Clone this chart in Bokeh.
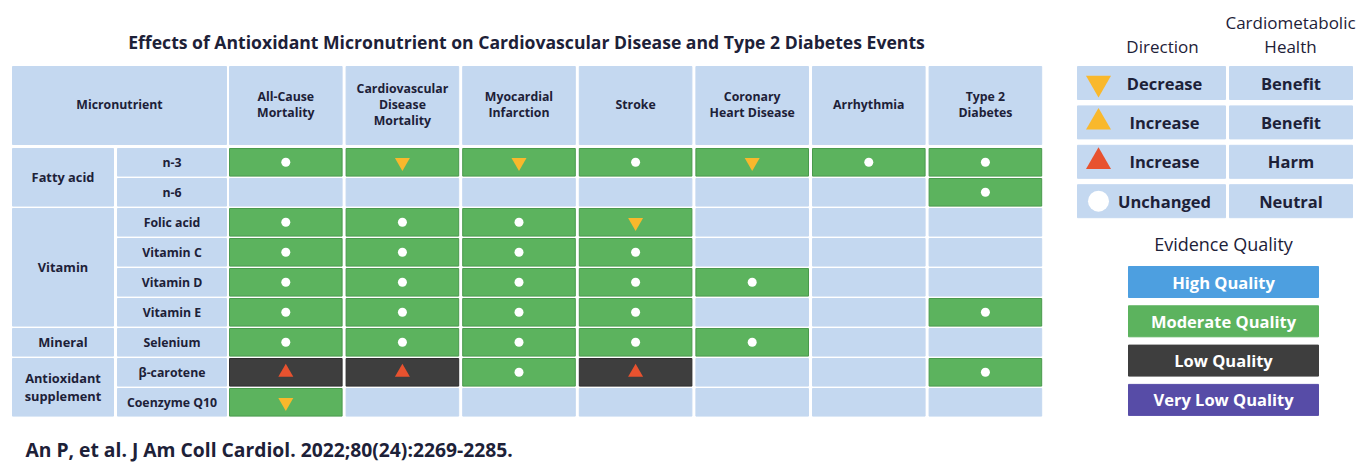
from bokeh.plotting import figure
from bokeh.models import Range1d, ColumnDataSource
from bokeh.core.properties import value
from bokeh.embed import file_html
from bokeh.resources import INLINE

# ---------------- data ----------------
title = "Effects of Antioxidant Micronutrient on Cardiovascular Disease and Type 2 Diabetes Events"
corner_label = "Micronutrient"
outcomes = ["All-Cause\nMortality", "Cardiovascular\nDisease\nMortality", "Myocardial\nInfarction",
            "Stroke", "Coronary\nHeart Disease", "Arrhythmia", "Type 2\nDiabetes"]
micronutrients = ["n-3", "n-6", "Folic acid", "Vitamin C", "Vitamin D", "Vitamin E",
                  "Selenium", "β-carotene", "Coenzyme Q10"]
groups = ["Fatty acid", "Vitamin", "Mineral", "Antioxidant\nsupplement"]
group_sizes = [2, 4, 1, 2]
# evidence quality per cell: M = moderate, L = low, "" = no evidence
quality = [
    ["M", "M", "M", "M", "M", "M", "M"],
    ["", "", "", "", "", "", "M"],
    ["M", "M", "M", "M", "", "", ""],
    ["M", "M", "M", "M", "", "", ""],
    ["M", "M", "M", "M", "M", "", ""],
    ["M", "M", "M", "M", "", "", "M"],
    ["M", "M", "M", "M", "M", "", ""],
    ["L", "L", "M", "L", "", "", "M"],
    ["M", "", "", "", "", "", ""],
]
# direction per cell: U = unchanged, D = decrease (benefit), H = increase (harm)
direction = [
    ["U", "D", "D", "U", "D", "U", "U"],
    ["", "", "", "", "", "", "U"],
    ["U", "U", "U", "D", "", "", ""],
    ["U", "U", "U", "U", "", "", ""],
    ["U", "U", "U", "U", "U", "", ""],
    ["U", "U", "U", "U", "", "", "U"],
    ["U", "U", "U", "U", "U", "", ""],
    ["H", "H", "U", "H", "", "", "U"],
    ["D", "", "", "", "", "", ""],
]
legend_dir_header = "Direction"
legend_health_header = ["Cardiometabolic", "Health"]
legend_dir_codes = ["D", "B", "H", "U"]
legend_dir_labels = ["Decrease", "Increase", "Increase", "Unchanged"]
legend_health_labels = ["Benefit", "Benefit", "Harm", "Neutral"]
quality_header = "Evidence Quality"
quality_codes = ["H", "M", "L", "V"]
quality_labels = ["High Quality", "Moderate Quality", "Low Quality", "Very Low Quality"]
citation = "An P, et al. J Am Coll Cardiol. 2022;80(24):2269-2285."

# ---------------- styles ----------------
EMPTY = "#c4d8f0"
QCOL = {"H": "#4d9fe0", "M": "#5cb35e", "L": "#3e3e3e", "V": "#574ca7", "": EMPTY}
QEDGE = {"H": "#4d9fe0", "M": "#4a9a4d", "L": "#2e2e2e", "V": "#574ca7", "": EMPTY}
MARK = {"D": ("inverted_triangle", "#f9b82c"), "B": ("triangle", "#f9b82c"),
        "H": ("triangle", "#e8522f"), "U": ("circle", "#ffffff")}
INK = "#1d2138"
FONT = "Open Sans"

W, H = 1368, 464
p = figure(width=W, height=H, output_backend="svg", toolbar_location=None,
           x_range=Range1d(0, W), y_range=Range1d(H, 0),
           min_border=0, min_border_left=0, min_border_right=0,
           min_border_top=0, min_border_bottom=0)
p.axis.visible = False
p.grid.visible = False
p.outline_line_color = None
p.background_fill_color = "white"
p.border_fill_color = "white"

# layout
G0, G1 = 12, 113          # group column
S0, S1 = 117, 226         # sub column
DX0, DPITCH, DW = 229, 116.6, 112.6
HY0, HY1 = 66, 144
RY0, RPITCH, RH = 148, 30, 27.6

def quad(l, r, t, b, c, lc=None):
    src = ColumnDataSource(dict(l=l, r=r, t=t, b=b, c=c, lc=lc if lc else c))
    p.quad(left="l", right="r", top="t", bottom="b", fill_color="c", line_color="lc",
           line_width=1, source=src)

def text(x, y, t, size, color=INK, style="bold", align="center", lh=1.2):
    src = ColumnDataSource(dict(x=x, y=y, t=t))
    p.text(x="x", y="y", text="t", source=src, text_align=align, text_baseline="middle",
           text_font=value(FONT), text_font_size=f"{size}px", text_font_style=style,
           text_color=color, text_line_height=lh)

# title
text([526], [41], [title], 17.6)

# header row
n_out = len(outcomes)
hl = [G0] + [DX0 + j * DPITCH for j in range(n_out)]
hr = [S1] + [DX0 + j * DPITCH + DW for j in range(n_out)]
quad(hl, hr, [HY0] * len(hl), [HY1] * len(hl), [EMPTY] * len(hl))
text([(a + b) / 2 for a, b in zip(hl, hr)], [(HY0 + HY1) / 2 - 1] * len(hl),
     [corner_label] + outcomes, 12.3, lh=0.95)

# group cells
gl, gr, gt, gb, gy = [], [], [], [], []
start = 0
for n in group_sizes:
    t = RY0 + start * RPITCH
    b = RY0 + (start + n - 1) * RPITCH + RH
    gl.append(G0); gr.append(G1); gt.append(t); gb.append(b); gy.append((t + b) / 2)
    start += n
quad(gl, gr, gt, gb, [EMPTY] * len(gl))
text([(G0 + G1) / 2] * len(groups), gy, groups, 12.8, lh=1.0)

# sub-row cells
nr = len(micronutrients)
rt = [RY0 + i * RPITCH for i in range(nr)]
quad([S0] * nr, [S1] * nr, rt, [t + RH for t in rt], [EMPTY] * nr)
text([(S0 + S1) / 2] * nr, [t + RH / 2 for t in rt], micronutrients, 12.3)

# data cells
cl, cr, ct, cb, cc, ce = [], [], [], [], [], []
marks = {}
for i in range(nr):
    for j in range(n_out):
        x0 = DX0 + j * DPITCH
        cl.append(x0); cr.append(x0 + DW); ct.append(rt[i]); cb.append(rt[i] + RH)
        cc.append(QCOL[quality[i][j]]); ce.append(QEDGE[quality[i][j]])
        d = direction[i][j]
        if d:
            marks.setdefault(d, ([], []))
            marks[d][0].append(x0 + DW / 2)
            marks[d][1].append(rt[i] + RH / 2)
quad(cl, cr, ct, cb, cc, ce)
for d, (xs, ys) in marks.items():
    m, col = MARK[d]
    p.scatter(xs, ys, marker=m, size=9 if m == "circle" else 15, fill_color=col, line_color=None)

# legend: direction / health
LL0, LL1, LR0, LR1 = 1077, 1225, 1229, 1352
LY0, LPITCH, LH = 66, 39.4, 33
text([1162], [46], [legend_dir_header], 17, style="normal")
text([1290, 1290], [22, 46], legend_health_header, 17, style="normal")
lt = [LY0 + i * LPITCH for i in range(len(legend_dir_labels))]
quad([LL0] * 4 + [LR0] * 4, [LL1] * 4 + [LR1] * 4, lt + lt,
     [t + LH for t in lt] * 2, [EMPTY] * 8)
for k, code in enumerate(legend_dir_codes):
    m, col = MARK[code]
    p.scatter([1098], [lt[k] + LH / 2], marker=m, size=21 if m == "circle" else 25,
              fill_color=col, line_color=None)
text([1164] * 4, [t + LH / 2 for t in lt], legend_dir_labels, 16.5, style="bold")
text([(LR0 + LR1) / 2] * 4, [t + LH / 2 for t in lt], legend_health_labels, 16.5, style="bold")

# legend: evidence quality
QX0, QX1 = 1128, 1318
QY0, QPITCH, QH = 266, 39.3, 31
text([1223], [243], [quality_header], 18, style="normal")
qt = [QY0 + i * QPITCH for i in range(len(quality_labels))]
quad([QX0] * 4, [QX1] * 4, qt, [t + QH for t in qt], [QCOL[c] for c in quality_codes])
text([(QX0 + QX1) / 2] * 4, [t + QH / 2 for t in qt], quality_labels, 16.5, color="white")

# citation
text([25], [449], [citation], 19.3, align="left")

open("out.html", "w").write(file_html(p, INLINE))
